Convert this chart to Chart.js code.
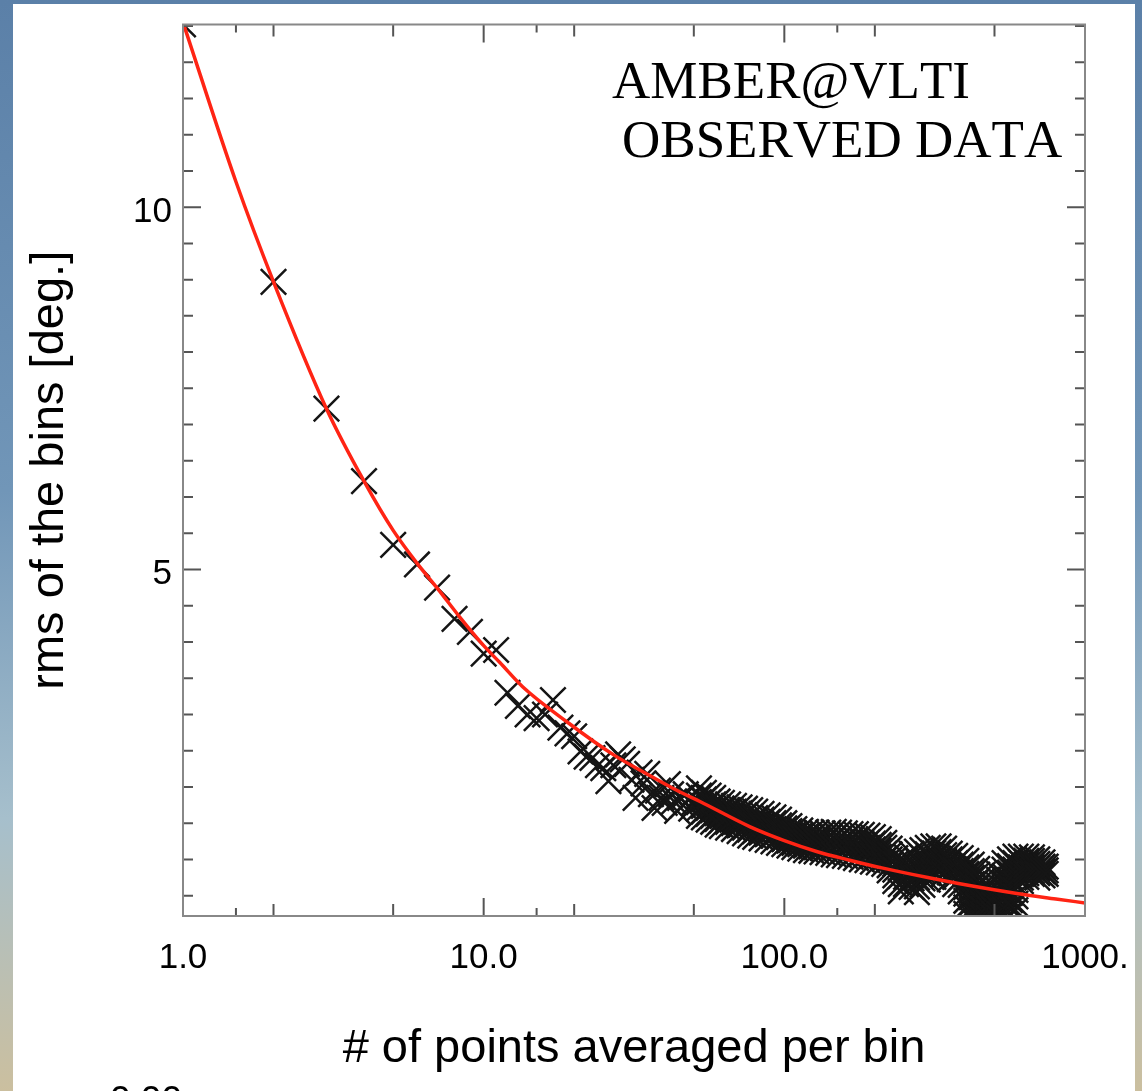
<!DOCTYPE html>
<html>
<head>
<meta charset="utf-8">
<script src="https://cdn.jsdelivr.net/npm/chart.js@4.4.0/dist/chart.umd.min.js"></script>
<style>
  html, body { margin: 0; padding: 0; width: 1142px; height: 1091px; overflow: hidden; }
  body { position: relative; background: linear-gradient(to bottom, #5b80a8 0%, #7196b8 45%, #a6bfcc 75%, #cbbf9f 100%); }
  #panel { position: absolute; left: 13px; top: 4px; width: 1122px; height: 1087px; background: #fff; overflow: hidden; }
  #panel canvas { position: absolute; left: 0; top: 0; }
  #cut { position: absolute; left: 97px; top: 1077px; font: 37px/37px "Liberation Sans", Arial, sans-serif; color: #000; }
</style>
</head>
<body>
<div id="panel">
  <canvas id="rmsChart" width="1122" height="1087"></canvas>
  <div id="cut">0.00</div>
</div>
<script>
// individual bins, 1..50 points averaged
const earlyN = [1,2,3,4,5,6,7,8,9,10,11,12,13,14,15,16,17,18,19,20,21,22,23,24,25,
                26,27,28,29,30,31,32,33,34,35,36,37,38,39,40,41,42,43,44,45,46,47,48,49,50];
const earlyRms = [12.52,8.97,7.22,6.22,5.34,5.07,4.75,4.32,4.14,3.84,3.89,3.30,3.12,3.00,2.95,3.00,3.20,2.82,2.74,2.70,
                  2.49,2.42,2.40,2.30,2.26,2.08,2.30,2.45,2.38,2.32,2.10,1.85,2.20,2.05,2.18,1.90,1.71,1.95,1.85,1.78,
                  2.04,1.90,1.80,1.67,1.85,1.75,1.90,1.82,1.70,1.78];

// dense part: bins read column by column (several overlapping values per column)
const blobN = [52,54,56,58,60,62,65,68,71,74,77,80,84,88,92,96,100,104,108,113,118,123,128,134,140,146,152,159,166,173,
               181,189,197,206,215,224,234,244,254,265,276,288,300,313,326,340,355,370,386,403,420,438,457,477,497,518,
               540,563,587,612,638,666,694,722,740];
const blobRms = [
  [1.98,1.88,1.79,1.70,1.60],[1.92,1.83,1.74,1.66,1.58],[1.88,1.79,1.71,1.63,1.55],[1.85,1.76,1.68,1.60,1.52],
  [1.80,1.72,1.64,1.56,1.48],[1.78,1.70,1.62,1.54,1.46],[1.76,1.68,1.60,1.52,1.44],[1.74,1.66,1.58,1.50,1.42],
  [1.72,1.64,1.55,1.47,1.39],[1.70,1.61,1.53,1.44,1.36],[1.68,1.59,1.50,1.41,1.33],[1.66,1.57,1.48,1.39,1.31],
  [1.63,1.55,1.46,1.37,1.29],[1.61,1.52,1.44,1.35,1.27],[1.58,1.50,1.42,1.33,1.25],[1.55,1.47,1.39,1.31,1.23],
  [1.50,1.43,1.35,1.28,1.21],[1.46,1.39,1.32,1.26,1.19],[1.42,1.36,1.29,1.23,1.17],[1.40,1.34,1.27,1.21,1.15],
  [1.38,1.32,1.25,1.19,1.13],[1.37,1.31,1.24,1.18,1.12],[1.37,1.30,1.24,1.17,1.11],[1.36,1.29,1.23,1.16,1.10],
  [1.37,1.30,1.23,1.16,1.09],[1.38,1.30,1.22,1.15,1.07],[1.37,1.29,1.21,1.14,1.06],[1.36,1.28,1.20,1.13,1.05],
  [1.35,1.27,1.19,1.12,1.04],[1.35,1.27,1.18,1.10,1.02],[1.34,1.25,1.17,1.08,1.00],[1.33,1.24,1.16,1.07,0.99],
  [1.31,1.22,1.14,1.05,0.97],[1.28,1.20,1.12,1.04,0.96],[1.23,1.16,1.08,1.01,0.94],[1.15,1.07,1.00,0.92,0.85],
  [1.02,0.94,0.86,0.78,0.70],[0.97,0.87,0.77,0.66,0.56],[1.04,0.95,0.85,0.76,0.66],[1.08,0.97,0.86,0.74,0.62],
  [1.11,0.99,0.87,0.75,0.63,0.55],[1.13,1.03,0.93,0.84,0.74,0.65],[1.16,1.07,0.98,0.90,0.81,0.72],
  [1.18,1.09,1.01,0.93,0.84,0.76],[1.18,1.10,1.01,0.93,0.84],[1.15,1.06,0.98,0.89,0.80],[1.08,1.00,0.91,0.82,0.73],
  [1.05,0.95,0.86,0.76,0.66],[1.02,0.93,0.84,0.74,0.65,0.56],
  [0.98,0.89,0.80,0.71,0.62,0.53,0.43,0.34,0.25],[0.93,0.84,0.75,0.66,0.57,0.48,0.40,0.31,0.22],
  [0.87,0.79,0.70,0.62,0.53,0.45,0.37,0.28,0.20],[0.79,0.71,0.63,0.56,0.48,0.40,0.32,0.25,0.20],
  [0.62,0.55,0.48,0.41,0.34,0.27,0.20],[0.56,0.50,0.44,0.38,0.32,0.26,0.20],
  [0.80,0.72,0.64,0.56,0.48,0.40,0.32,0.25,0.20],[0.95,0.86,0.77,0.68,0.59,0.50,0.41,0.32,0.22],
  [1.00,0.91,0.82,0.72,0.63,0.54,0.44,0.35,0.25],[1.04,0.95,0.86,0.77,0.67,0.58,0.49,0.39,0.30],
  [1.04,0.96,0.89,0.82,0.75,0.70],[1.04,0.98,0.92,0.86,0.81,0.76],[1.03,0.98,0.93,0.89,0.84,0.80],
  [1.00,0.94,0.88,0.81,0.75],[0.96,0.90,0.84,0.78],[0.90,0.85,0.80]
];

// fitted curve (red)
const fitN = [1,1.5,2,3,4,5,6.1,7.05,8.34,9.95,11.3,13.5,18.9,26.9,34.9,45,52.4,77,100,128,165,213,300,400,594,800,1000];
const fitRms = [12.55,10.35,8.97,7.22,6.22,5.54,5.05,4.73,4.34,3.96,3.72,3.38,2.90,2.45,2.18,1.93,1.80,1.45,1.26,1.11,0.99,0.88,0.75,0.65,0.53,0.455,0.40];

const xTickValues = [1, 10, 100, 1000];
const xTickLabels = ['1.0', '10.0', '100.0', '1000.'];
const yTickValues = [5, 10];

const xDecadeTicks = [10, 100];
const xMidTicks = [2, 5, 20, 50, 200, 500];
const xSmallTicks = [1.5, 15, 150];

const binPoints = earlyN.map((n, i) => ({x: n, y: earlyRms[i]}));
blobN.forEach((n, i) => blobRms[i].forEach(v => binPoints.push({x: n, y: v})));
const fitPoints = fitN.map((n, i) => ({x: n, y: fitRms[i]}));

const frameTicks = {
  id: 'frameTicks',
  afterDraw(chart) {
    const {ctx, chartArea: a, scales: {x, y}} = chart;
    ctx.save();
    ctx.strokeStyle = '#555';
    ctx.lineWidth = 2;
    ctx.beginPath();
    const xt = (v, len) => {
      const px = x.getPixelForValue(v);
      ctx.moveTo(px, a.bottom); ctx.lineTo(px, a.bottom - len);
      ctx.moveTo(px, a.top); ctx.lineTo(px, a.top + len);
    };
    xDecadeTicks.forEach(v => xt(v, 18));
    xMidTicks.forEach(v => xt(v, 12));
    xSmallTicks.forEach(v => xt(v, 8));
    for (let v = 0.5; v < 12.6; v += 0.5) {
      const py = y.getPixelForValue(v);
      if (py < a.top || py > a.bottom) continue;
      const len = yTickValues.includes(v) ? 18 : 10;
      ctx.moveTo(a.left, py); ctx.lineTo(a.left + len, py);
      ctx.moveTo(a.right, py); ctx.lineTo(a.right - len, py);
    }
    ctx.stroke();
    ctx.strokeStyle = '#888';
    ctx.strokeRect(a.left, a.top, a.width, a.height);

    ctx.fillStyle = '#000';
    ctx.textBaseline = 'alphabetic';
    ctx.fontKerning = 'none';
    ctx.font = '53px "Liberation Serif", "Times New Roman", serif';
    ctx.fillText('AMBER@VLTI', 599, 94);
    ctx.fillText('OBSERVED DATA', 609, 153);
    ctx.restore();
  }
};

const noPad = s => { s.paddingLeft = 0; s.paddingRight = 0; s.paddingTop = 0; s.paddingBottom = 0; };

const ctx = document.getElementById('rmsChart').getContext('2d');
new Chart(ctx, {
  type: 'scatter',
  data: {
    datasets: [{
      label: 'fit',
      data: fitPoints,
      showLine: true,
      borderColor: '#ff2414',
      borderWidth: 3.5,
      pointRadius: 0,
      cubicInterpolationMode: 'monotone'
    }, {
      label: 'rms',
      data: binPoints,
      pointStyle: 'crossRot',
      pointRadius: 18,
      pointBorderWidth: 2.5,
      borderColor: '#151515',
      backgroundColor: '#151515'
    }]
  },
  options: {
    responsive: false,
    animation: false,
    devicePixelRatio: 1,
    layout: { padding: { top: 14, right: 50, left: 0, bottom: 0 } },
    plugins: { legend: { display: false }, tooltip: { enabled: false } },
    scales: {
      x: {
        type: 'logarithmic',
        min: 1, max: 1000,
        grid: { display: false, drawTicks: false },
        border: { display: false },
        afterBuildTicks: s => { s.ticks = xTickValues.map(v => ({value: v})); },
        afterFit: s => { s.height = 175; noPad(s); },
        ticks: {
          padding: 21,
          color: '#000',
          font: { family: '"Liberation Sans", Arial, sans-serif', size: 35 },
          maxRotation: 0,
          autoSkip: false,
          callback: v => xTickLabels[xTickValues.indexOf(v)]
        },
        title: {
          display: true,
          text: '# of points averaged per bin',
          color: '#000',
          font: { family: '"Liberation Sans", Arial, sans-serif', size: 47 },
          padding: { top: 0, bottom: 14 }
        }
      },
      y: {
        type: 'linear',
        min: 0.22, max: 12.52,
        grid: { display: false, drawTicks: false },
        border: { display: false },
        afterBuildTicks: s => { s.ticks = yTickValues.map(v => ({value: v})); },
        afterFit: s => { s.width = 170; noPad(s); },
        ticks: {
          padding: 11,
          labelOffset: 5,
          color: '#000',
          font: { family: '"Liberation Sans", Arial, sans-serif', size: 35 },
          callback: v => String(v)
        },
        title: {
          display: true,
          text: 'rms of the bins [deg.]',
          color: '#000',
          font: { family: '"Liberation Sans", Arial, sans-serif', size: 47 },
          padding: { top: 9, bottom: 0 }
        }
      }
    }
  },
  plugins: [frameTicks]
});
</script>
</body>
</html>
